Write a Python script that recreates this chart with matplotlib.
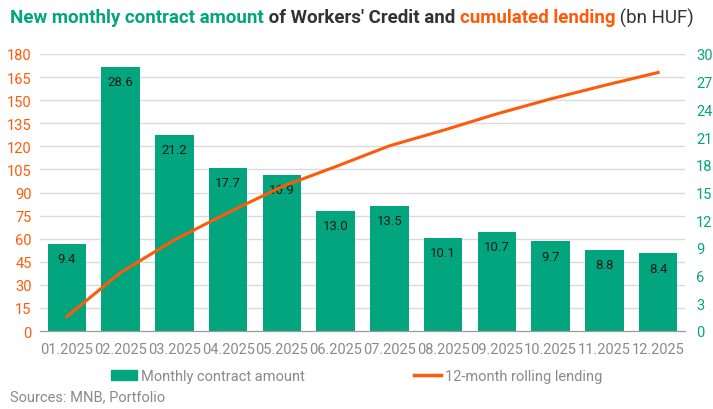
import matplotlib
matplotlib.use("Agg")
import matplotlib.pyplot as plt
import numpy as np
from matplotlib.patches import Patch
from matplotlib.lines import Line2D

plt.rcParams["font.family"] = ["Roboto", "DejaVu Sans"]

months = ["01.2025", "02.2025", "03.2025", "04.2025", "05.2025", "06.2025",
          "07.2025", "08.2025", "09.2025", "10.2025", "11.2025", "12.2025"]
monthly = [9.4, 28.6, 21.2, 17.7, 16.9, 13.0, 13.5, 10.1, 10.7, 9.7, 8.8, 8.4]
rolling = [9.4, 38.0, 59.2, 76.9, 93.8, 106.8, 120.3, 130.4, 141.1, 150.8, 159.6, 168.0]

GREEN = "#03A57E"
ORANGE = "#FF5A0A"
GREY = "#8A8A8A"

fig = plt.figure(figsize=(7.13, 4.10), dpi=100)
ax = fig.add_axes([40 / 713, 1 - 332 / 410, 645 / 713, 277 / 410])
ax2 = ax.twinx()

x = np.arange(len(months))
ax2.bar(x, monthly, width=0.72, color=GREEN, zorder=2)
for xi, v in zip(x, monthly):
    ax2.annotate(f"{v:.1f}", (xi, v), xytext=(0, -10.5), textcoords="offset points",
                 ha="center", va="center", fontsize=9.5, color="#1a1a1a")

ax.plot(x, rolling, color=ORANGE, lw=2.2, zorder=3)

ax.set_ylim(0, 180)
ax.set_yticks(np.arange(0, 181, 15))
ax2.set_ylim(0, 30)
ax2.set_yticks(np.arange(0, 31, 3))
ax.set_xlim(-0.5, len(months) - 0.5)
ax.set_xticks(x)
ax.set_xticklabels(months)

# line axis on top of the bars
ax.set_zorder(ax2.get_zorder() + 1)
ax.patch.set_visible(False)
ax2.set_axisbelow(True)
for yv in np.arange(15, 181, 15):
    ax2.axhline(yv / 6, color="#DADADA", lw=1, zorder=0)

for a in (ax, ax2):
    for s in ("top", "left", "right"):
        a.spines[s].set_visible(False)
    a.spines["bottom"].set_color("#999999")
ax.tick_params(axis="y", length=0, labelcolor=ORANGE, labelsize=10.5, pad=6)
ax2.tick_params(axis="y", length=0, labelcolor=GREEN, labelsize=10.5, pad=8)
ax.tick_params(axis="x", length=0, labelcolor=GREY, labelsize=10.5, pad=8)
ax2.tick_params(axis="x", length=0)

handles = [Patch(color=GREEN), Line2D([0], [0], color=ORANGE, lw=2.5)]
leg = fig.legend(handles, ["Monthly contract amount", "12-month rolling lending"],
                 loc="center", bbox_to_anchor=(0.5, 1 - 377 / 410), ncol=2,
                 frameon=False, fontsize=10.5, handlelength=1.8, columnspacing=7.5,
                 handletextpad=0.3)
for t in leg.get_texts():
    t.set_color(GREY)

fig.text(10 / 713, 1 - 397 / 410, "Sources: MNB, Portfolio", fontsize=10.5,
         color=GREY, va="center", ha="left")

# multi-coloured title, pieces placed one after another
parts = [("New monthly contract amount", GREEN, "bold"),
         (" of Workers' Credit and ", "#333333", "bold"),
         ("cumulated lending", ORANGE, "bold"),
         (" (bn HUF)", "#333333", "normal")]
renderer = fig.canvas.get_renderer()
xpos = 10 / 713
for txt, col, wt in parts:
    t = fig.text(xpos, 1 - 18 / 410, txt, color=col, fontsize=13.5, fontweight=wt,
                 va="center", ha="left")
    bb = t.get_window_extent(renderer=renderer)
    xpos += bb.width / fig.bbox.width

fig.savefig("out.png", dpi=100)
